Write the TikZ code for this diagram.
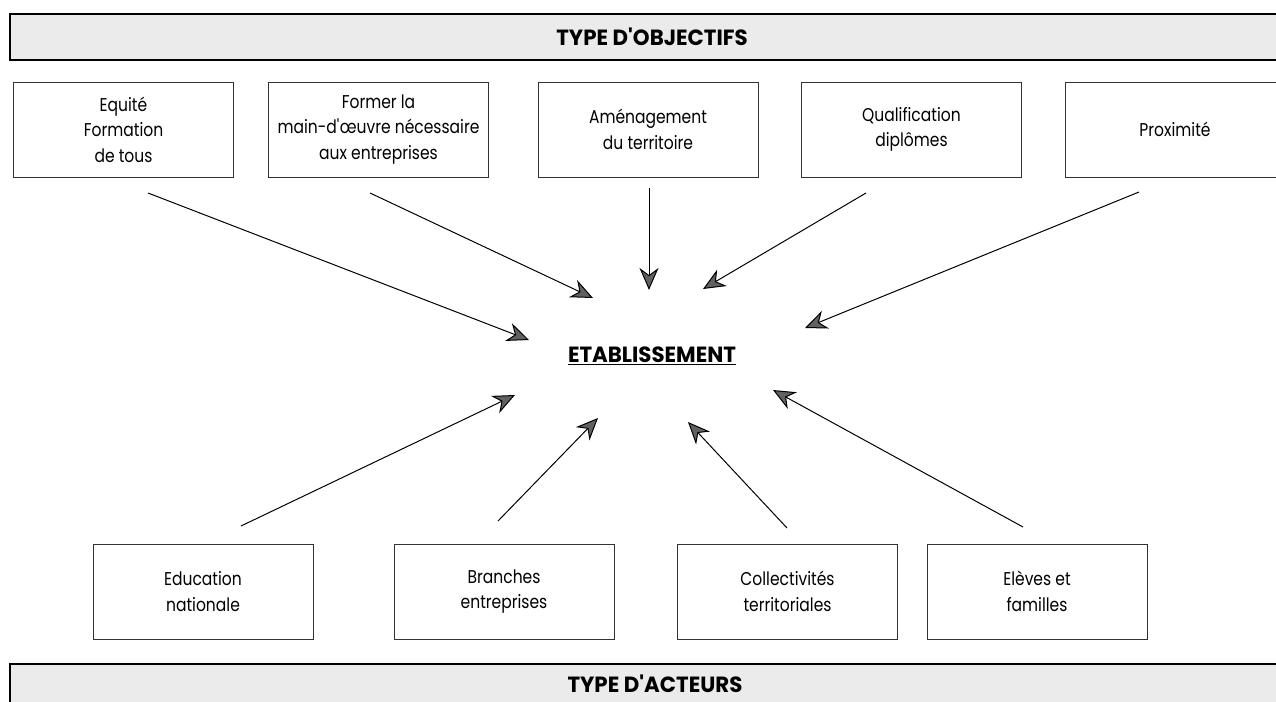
\documentclass[tikz,border=0pt]{standalone}
\usepackage{fontspec}
\setmainfont{Poppins}[FakeStretch=0.84]
\newfontfamily\titlefont{Poppins}[FakeStretch=0.97]
\usetikzlibrary{arrows.meta}
\begin{document}
\begin{tikzpicture}[x=1pt,y=-1pt,
  box/.style={draw=black!80, line width=0.9pt, minimum width=220pt, minimum height=95pt,
    align=center, inner sep=0pt, font=\fontsize{18.5}{25.5}\selectfont},
  band/.style={draw=black, line width=1.7pt, fill=black!8},
  arr/.style={line width=1pt, -{Stealth[length=22pt, width=19pt, inset=7pt, fill=black!62]}},
  titletext/.style={font=\titlefont\bfseries\fontsize{22}{24}\selectfont}]
\useasboundingbox (0,0) rectangle (1276,701);
\clip (0,0) rectangle (1276,701);
% bands
\path[band] (10,14) rectangle (1300,60);
\path[band] (10,664) rectangle (1300,730);
\node[titletext] (ttop) at (652,37) {TYPE D\textquotesingle OBJECTIFS};
\node[titletext] (tbot) at (655,684) {TYPE D\textquotesingle ACTEURS};
% top boxes
\node[box] (b1) at (123.5,129.5) {Equité\\Formation\\de tous};
\node[box] (b2) at (378.5,129.5) {Former la\\main-d\textquotesingle œuvre nécessaire\\aux entreprises};
\node[box] (b3) at (648,129.5) {Aménagement\\du territoire};
\node[box] (b4) at (911.5,129.5) {Qualification\\diplômes};
\node[box] (b5) at (1175,129.5) {Proximité};
% bottom boxes
\node[box] (c1) at (203,591.5) {Education\\nationale};
\node[box] (c2) at (504,591.5) {Branches\\entreprises};
\node[box] (c3) at (787.5,591.5) {Collectivités\\territoriales};
\node[box] (c4) at (1037,591.5) {Elèves et\\familles};
% centre
\node[titletext] (etab) at (652,356) {\underline{ETABLISSEMENT}};
% arrow ends
\coordinate (s1) at (148,193);  \coordinate (t1) at (529,340);
\coordinate (s2) at (370,193);  \coordinate (t2) at (593,298);
\coordinate (s3) at (649,188);  \coordinate (t3) at (649,290);
\coordinate (s4) at (866,193);  \coordinate (t4) at (703,289);
\coordinate (s5) at (1139,192); \coordinate (t5) at (805,328);
\coordinate (s6) at (241,526);  \coordinate (t6) at (515,395);
\coordinate (s7) at (498,521);  \coordinate (t7) at (598,418);
\coordinate (s8) at (787,528);  \coordinate (t8) at (688,422);
\coordinate (s9) at (1023,527); \coordinate (t9) at (773,390);
\foreach \i in {1,...,9} { \draw[arr] (s\i) -- (t\i); }
\end{tikzpicture}
\end{document}
